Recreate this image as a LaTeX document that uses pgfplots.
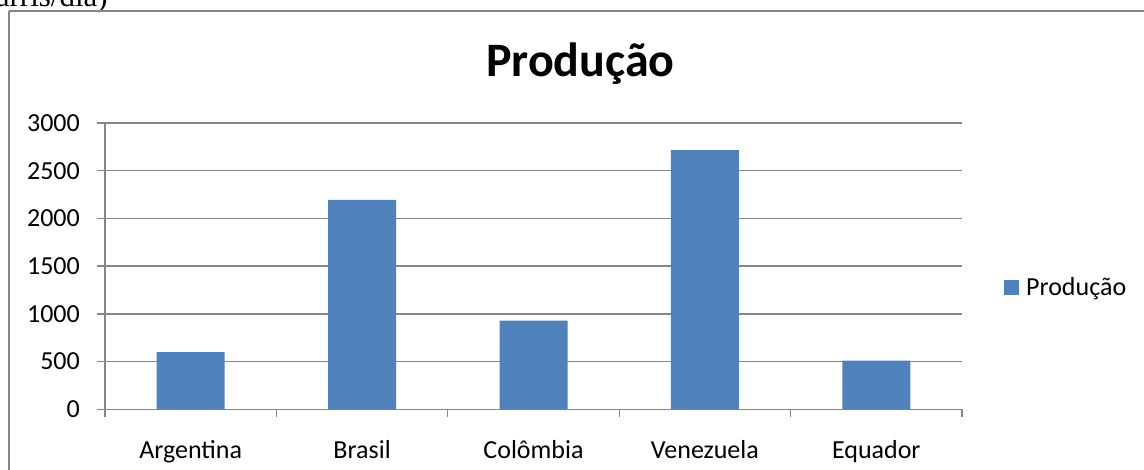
\documentclass[border=0pt]{standalone}
\usepackage{fontspec}
\setmainfont{Carlito}
\newfontfamily\seriffont{Liberation Serif}
\usepackage{pgfplots}
\pgfplotsset{compat=1.18}
\definecolor{barblue}{HTML}{4F81BD}
\definecolor{gridgray}{HTML}{868686}
\begin{document}
\begin{tikzpicture}
\clip (0pt,0pt) rectangle (1144pt,470pt);
\node[anchor=base east, inner sep=0pt, font=\seriffont\fontsize{31}{37}\selectfont] at (108pt,463pt) {(barris/dia)};
\draw[gridgray, line width=1.7pt] (9pt,459pt) -- (1160pt,459pt);
\draw[gridgray, line width=1.7pt] (9pt,459pt) -- (9pt,-10pt);
\begin{axis}[
  at={(105pt,60.7pt)}, anchor=south west,
  width=857pt, height=286.3pt, scale only axis,
  xmin=-0.5, xmax=4.5, ymin=0, ymax=3000,
  axis x line*=bottom, axis y line*=left,
  axis line style={gridgray, line width=1.3pt, -},
  ymajorgrids, grid style={gridgray, line width=1.3pt},
  ytick={0,500,...,3000}, yticklabels={0,500,1000,1500,2000,2500,3000},
  scaled y ticks=false,
  tick align=outside, major tick length=8pt,
  tick style={gridgray, line width=1.3pt},
  xtick={-0.5,0.5,1.5,2.5,3.5,4.5}, xticklabels={,,,,,},
  extra x ticks={0,1,2,3,4},
  extra x tick labels={Argentina,Brasil,Colômbia,Venezuela,Equador},
  extra x tick style={major tick length=0pt},
  tick label style={font=\fontsize{26}{31}\selectfont},
  yticklabel style={anchor=east, inner sep=0pt, xshift=-17pt},
  xticklabel style={anchor=base, inner sep=0pt, yshift=-49.4pt},
  title={Produção},
  title style={anchor=base, at={(0.5548,1.1407)}, inner sep=0pt, font=\bfseries\fontsize{48}{58}\selectfont},
  legend style={draw=none, fill=none, at={(1.049,0.428)}, anchor=west, inner sep=0pt,
    nodes={inner sep=0pt}, column sep=7pt, font=\fontsize{26}{31}\selectfont},
  legend cell align=left,
  clip=false,
]
\addplot[ybar, bar width=68pt, fill=barblue, draw=none,
  legend image code/.code={\fill[barblue] (0pt,-8pt) rectangle (15pt,7pt);}]
  coordinates {(0,600) (1,2195) (2,930) (3,2715) (4,510)};
\addlegendentry{Produção}
\end{axis}
\end{tikzpicture}
\end{document}
